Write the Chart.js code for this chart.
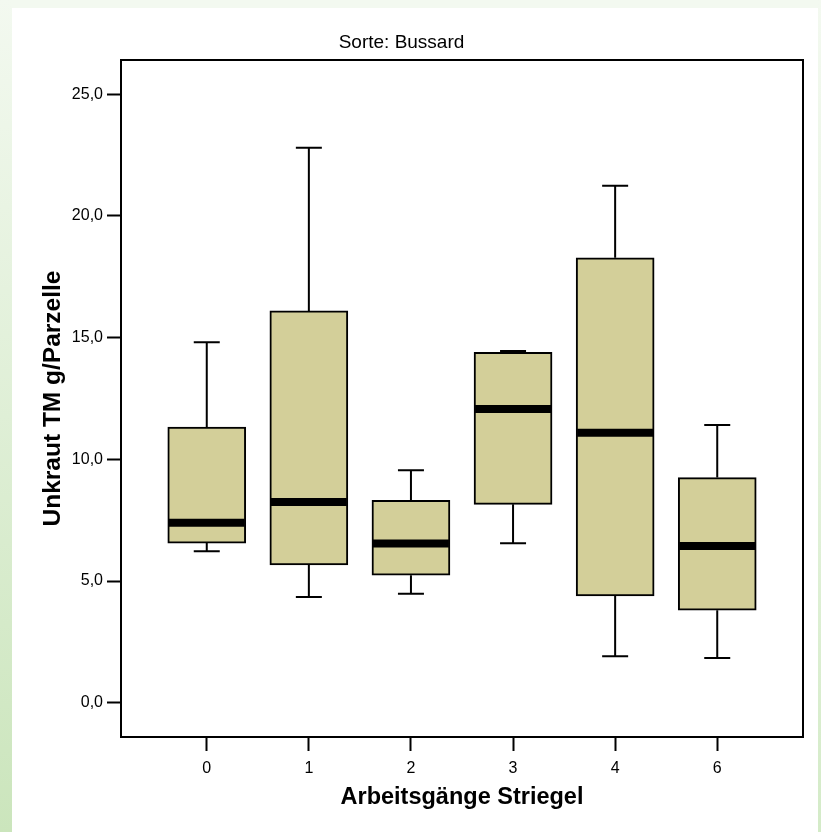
<!DOCTYPE html>
<html><head><meta charset="utf-8">
<script src="https://cdn.jsdelivr.net/npm/chart.js@4.4.1/dist/chart.umd.min.js"></script>
<style>
html,body{margin:0;padding:0;}
body{width:821px;height:832px;position:relative;overflow:hidden;background:#f3f9f0;}
#left{position:absolute;left:0;top:0;width:12px;height:832px;background:linear-gradient(to bottom,#f3f9f0,#cbe5bc);}
#right{position:absolute;left:818px;top:0;width:3px;height:832px;background:linear-gradient(to bottom,#f3f9f0,#d4ebc8);}
#panel{position:absolute;left:12px;top:8px;width:806px;height:824px;background:#fff;}
#wrap{position:absolute;left:0;top:0;width:821px;height:832px;}
</style></head>
<body><div id="left"></div><div id="right"></div><div id="panel"></div>
<div id="wrap"><canvas id="c" width="821" height="832"></canvas></div>
<script>
const categories = ['0','1','2','3','4','6'];
const whiskerLow  = [6.22, 4.34, 4.48, 6.55, 1.91, 1.84];
const q1          = [6.56, 5.66, 5.24, 8.15, 4.39, 3.80];
const medians     = [7.39, 8.25, 6.54, 12.07, 11.09, 6.44];
const q3          = [11.33, 16.10, 8.32, 14.40, 18.28, 9.25];
const whiskerHigh = [14.81, 22.80, 9.55, 14.45, 21.24, 11.41];
const yTicks = [0, 5, 10, 15, 20, 25];
const yTickLabels = ['0,0', '5,0', '10,0', '15,0', '20,0', '25,0'];

Chart.defaults.font.family = "'Liberation Sans', Arial, sans-serif";
Chart.defaults.color = '#000';

const boxPlugin = {
  id: 'boxParts',
  beforeDatasetsDraw(chart) {
    const {ctx, scales: {x, y}} = chart;
    ctx.save();
    ctx.strokeStyle = '#000';
    ctx.lineWidth = 2;
    categories.forEach((c, i) => {
      const px = x.getPixelForValue(i);
      const yHi = y.getPixelForValue(whiskerHigh[i]);
      const yQ3 = y.getPixelForValue(q3[i]);
      const yLo = y.getPixelForValue(whiskerLow[i]);
      const yQ1 = y.getPixelForValue(q1[i]);
      ctx.beginPath();
      ctx.moveTo(px, yQ3); ctx.lineTo(px, yHi);
      ctx.moveTo(px - 13, yHi); ctx.lineTo(px + 13, yHi);
      ctx.moveTo(px, yQ1); ctx.lineTo(px, yLo);
      ctx.moveTo(px - 13, yLo); ctx.lineTo(px + 13, yLo);
      ctx.stroke();
    });
    ctx.restore();
  },
  afterDatasetsDraw(chart) {
    const {ctx, scales: {x, y}, chartArea: a} = chart;
    ctx.save();
    ctx.strokeStyle = '#000';
    ctx.lineWidth = 8;
    categories.forEach((c, i) => {
      const px = x.getPixelForValue(i);
      const ym = y.getPixelForValue(medians[i]);
      ctx.beginPath();
      ctx.moveTo(px - 38, ym); ctx.lineTo(px + 38, ym);
      ctx.stroke();
    });
    ctx.lineWidth = 2;
    ctx.strokeRect(a.left, a.top, a.right - a.left, a.bottom - a.top);
    ctx.restore();
  }
};

new Chart(document.getElementById('c'), {
  type: 'bar',
  data: {
    datasets: [{
      data: categories.map((c, i) => ({x: i, y: [q1[i], q3[i]]})),
      backgroundColor: '#d3cf99',
      borderColor: '#000',
      borderWidth: 2,
      borderSkipped: false,
      barThickness: 78
    }]
  },
  options: {
    responsive: false,
    animation: false,
    layout: {padding: {left: 0, right: 18, top: 0, bottom: 0}},
    plugins: {
      legend: {display: false},
      tooltip: {enabled: false},
      title: {
        display: true,
        text: 'Sorte: Bussard',
        color: '#000',
        font: {size: 19, weight: 'normal'},
        padding: {top: 31.6, bottom: 5.6}
      }
    },
    scales: {
      x: {
        type: 'linear',
        offset: false,
        min: -0.84,
        max: 5.84,
        afterBuildTicks(scale) { scale.ticks = categories.map((c, i) => ({value: i})); },
        afterFit(scale) { scale.height = 95; },
        ticks: {
          padding: 8,
          font: {size: 16},
          callback: (v, i) => categories[i]
        },
        grid: {display: true, offset: false, drawOnChartArea: false, drawTicks: true, tickLength: 14, tickWidth: 2, tickColor: '#000'},
        border: {display: true, color: '#000', width: 2},
        title: {
          display: true,
          text: 'Arbeitsgänge Striegel',
          font: {size: 23.5, weight: 'bold'},
          padding: {top: 0, bottom: 20.4}
        }
      },
      y: {
        type: 'linear',
        min: -1.41,
        max: 26.41,
        afterBuildTicks(scale) { scale.ticks = yTicks.map(v => ({value: v})); },
        afterFit(scale) { scale.width = 121; },
        ticks: {
          padding: 4,
          font: {size: 16},
          callback: (v, i) => yTickLabels[i]
        },
        grid: {display: true, drawOnChartArea: false, drawTicks: true, tickLength: 14, tickWidth: 2, tickColor: '#000'},
        border: {display: true, color: '#000', width: 2},
        title: {
          display: true,
          text: 'Unkraut TM g/Parzelle',
          font: {size: 24.5, weight: 'bold'},
          padding: {top: 39, bottom: 0}
        }
      }
    }
  },
  plugins: [boxPlugin]
});
</script></body></html>
